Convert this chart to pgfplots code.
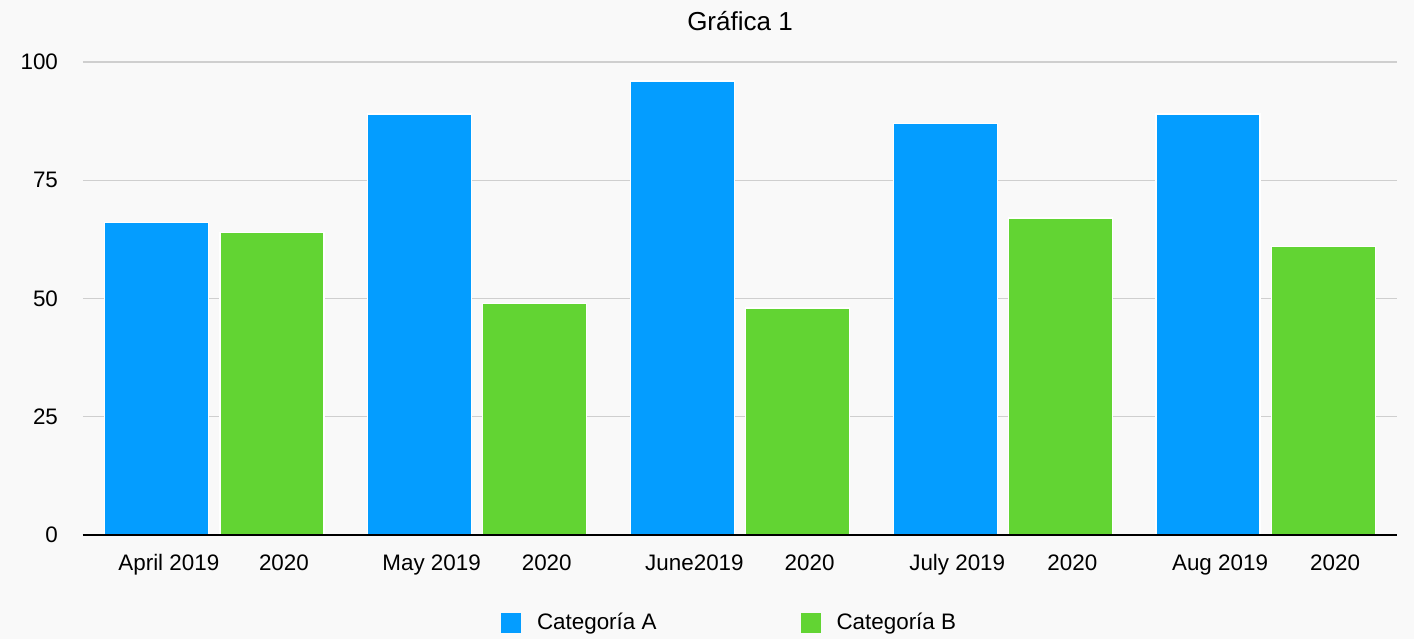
\documentclass[border=0pt]{standalone}
\usepackage{fontspec}
\setmainfont{Liberation Sans}
\usepackage{pgfplots}
\pgfplotsset{compat=1.18}
\definecolor{barA}{HTML}{049DFF}
\definecolor{barB}{HTML}{62D433}
\definecolor{bgc}{HTML}{F9F9F9}
\definecolor{gridc}{HTML}{CFCFCF}
\pgfplotsset{
  sqlegend/.style={legend image code/.code={\fill[##1,draw=none] (0pt,-5pt) rectangle (10pt,5pt);\path[draw=none,fill=none] (0pt,0pt) -- (16pt,0pt);}}
}
\begin{document}
\begin{tikzpicture}
\fill[bgc] (0,0) rectangle (707pt,319.5pt);
\begin{axis}[
  at={(41.5pt,52pt)}, anchor=south west,
  scale only axis, width=657pt, height=236.5pt,
  xmin=-0.5, xmax=4.5, ymin=0, ymax=100,
  axis x line=bottom, axis y line=left,
  axis line style={-},
  x axis line style={black, line width=1pt},
  y axis line style={draw=none},
  major tick length=0pt,
  ymajorgrids, grid style={gridc, line width=0.7pt},
  ytick={0,25,50,75,100},
  xtick={-0.219,0.219,0.781,1.219,1.781,2.219,2.781,3.219,3.781,4.219},
  xticklabels={April 2019,2020,May 2019,2020,June2019,2020,July 2019,2020,Aug 2019,2020},
  tick label style={font=\fontsize{11.2}{13}\selectfont},
  /pgf/number format/assume math mode=true,
  xticklabel style={xshift=6pt, yshift=-6pt, text height=8pt, text depth=2.5pt},
  yticklabel style={xshift=-9pt},
  ybar, bar width=0.396, bar shift=0pt,
  legend columns=2,
  legend style={at={(0.4928,-0.186)}, anchor=center, draw=none, fill=none,
    font=\fontsize{11.2}{13}\selectfont,
    /tikz/every even column/.append style={column sep=70pt}},
  title={Gráfica 1},
  title style={font=\fontsize{13}{15}\selectfont, yshift=6pt},
]
\addplot[sqlegend, fill=barA, draw=white, line width=0.6pt] coordinates {(-0.219,66) (0.781,89) (1.781,96) (2.781,87) (3.781,89)};
\addlegendentry{Categoría A}
\addplot[sqlegend, fill=barB, draw=white, line width=0.6pt] coordinates {(0.219,64) (1.219,49) (2.219,48) (3.219,67) (4.219,61)};
\addlegendentry{Categoría B}
\draw[black, line width=1pt] (rel axis cs:0,0) -- (rel axis cs:1,0);
\end{axis}
\end{tikzpicture}
\end{document}
